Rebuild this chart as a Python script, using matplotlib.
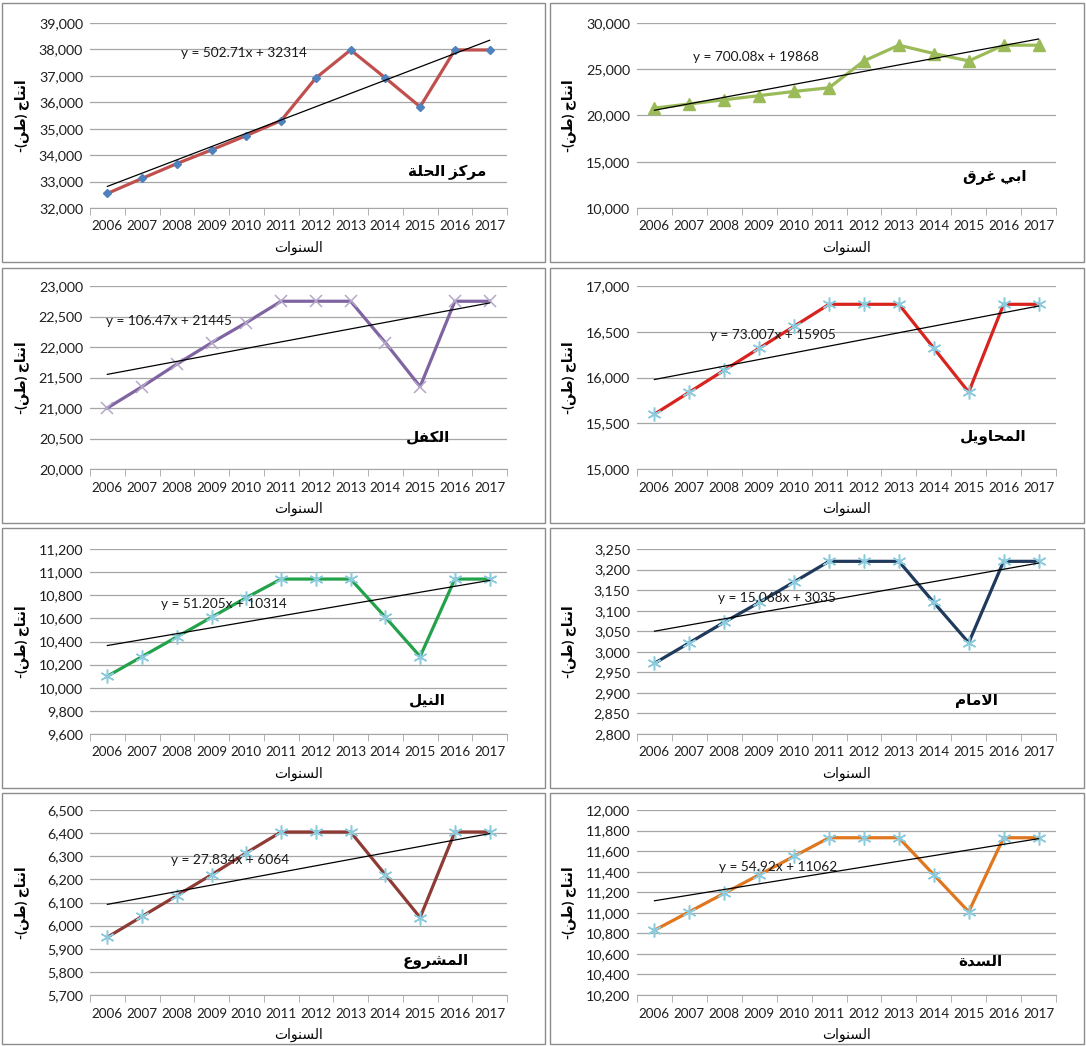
import numpy as np
import matplotlib
matplotlib.use("Agg")
import matplotlib.pyplot as plt
from matplotlib.patches import Rectangle
from matplotlib.ticker import MultipleLocator, FuncFormatter

plt.rcParams['font.family'] = ['Lato', 'DejaVu Sans']

# production per district, 2006-2017 (tonnes)
years = list(range(2006, 2018))
hilla = [32550, 33120, 33680, 34200, 34740, 35310, 36920, 37980, 36920, 35830, 37980, 37980]
abu_gharaq = [20800, 21250, 21700, 22150, 22600, 23000, 25900, 27600, 26700, 25900, 27600, 27600]
kifl = [21000, 21350, 21720, 22070, 22400, 22750, 22750, 22750, 22070, 21350, 22750, 22750]
mahawil = [15600, 15840, 16080, 16320, 16560, 16800, 16800, 16800, 16320, 15840, 16800, 16800]
nile = [10100, 10270, 10440, 10610, 10780, 10940, 10940, 10940, 10610, 10270, 10940, 10940]
imam = [2972, 3022, 3072, 3120, 3170, 3220, 3220, 3220, 3120, 3022, 3220, 3220]
mashrou = [5950, 6040, 6130, 6220, 6315, 6405, 6405, 6405, 6220, 6035, 6405, 6405]
sudda = [10830, 11010, 11190, 11370, 11550, 11730, 11730, 11730, 11370, 11010, 11730, 11730]

names = ['مركز الحلة', 'ابي غرق', 'الكفل', 'المحاويل', 'النيل', 'الامام', 'المشروع', 'السدة']
series = [hilla, abu_gharaq, kifl, mahawil, nile, imam, mashrou, sudda]

# linear trend lines y = a*x + b, x = 1..12
trend_slope = [502.71, 700.08, 106.47, 73.007, 51.205, 15.068, 27.834, 54.92]
trend_icept = [32314, 19868, 21445, 15905, 10314, 3035, 6064, 11062]

# ---- minimal Arabic shaping (matplotlib has no bidi/shaping) ----
FORMS = {
    'ء': ('\uFE80', None, None, None),
    'ا': ('\uFE8D', '\uFE8E', None, None),
    'ب': ('\uFE8F', '\uFE90', '\uFE91', '\uFE92'),
    'ة': ('\uFE93', '\uFE94', None, None),
    'ت': ('\uFE95', '\uFE96', '\uFE97', '\uFE98'),
    'ث': ('\uFE99', '\uFE9A', '\uFE9B', '\uFE9C'),
    'ج': ('\uFE9D', '\uFE9E', '\uFE9F', '\uFEA0'),
    'ح': ('\uFEA1', '\uFEA2', '\uFEA3', '\uFEA4'),
    'خ': ('\uFEA5', '\uFEA6', '\uFEA7', '\uFEA8'),
    'د': ('\uFEA9', '\uFEAA', None, None),
    'ذ': ('\uFEAB', '\uFEAC', None, None),
    'ر': ('\uFEAD', '\uFEAE', None, None),
    'ز': ('\uFEAF', '\uFEB0', None, None),
    'س': ('\uFEB1', '\uFEB2', '\uFEB3', '\uFEB4'),
    'ش': ('\uFEB5', '\uFEB6', '\uFEB7', '\uFEB8'),
    'ص': ('\uFEB9', '\uFEBA', '\uFEBB', '\uFEBC'),
    'ض': ('\uFEBD', '\uFEBE', '\uFEBF', '\uFEC0'),
    'ط': ('\uFEC1', '\uFEC2', '\uFEC3', '\uFEC4'),
    'ظ': ('\uFEC5', '\uFEC6', '\uFEC7', '\uFEC8'),
    'ع': ('\uFEC9', '\uFECA', '\uFECB', '\uFECC'),
    'غ': ('\uFECD', '\uFECE', '\uFECF', '\uFED0'),
    'ف': ('\uFED1', '\uFED2', '\uFED3', '\uFED4'),
    'ق': ('\uFED5', '\uFED6', '\uFED7', '\uFED8'),
    'ك': ('\uFED9', '\uFEDA', '\uFEDB', '\uFEDC'),
    'ل': ('\uFEDD', '\uFEDE', '\uFEDF', '\uFEE0'),
    'م': ('\uFEE1', '\uFEE2', '\uFEE3', '\uFEE4'),
    'ن': ('\uFEE5', '\uFEE6', '\uFEE7', '\uFEE8'),
    'ه': ('\uFEE9', '\uFEEA', '\uFEEB', '\uFEEC'),
    'و': ('\uFEED', '\uFEEE', None, None),
    'ى': ('\uFEEF', '\uFEF0', None, None),
    'ي': ('\uFEF1', '\uFEF2', '\uFEF3', '\uFEF4'),
    'لا': ('\uFEFB', '\uFEFC', None, None),
}


def dual(t):
    return t in FORMS and FORMS[t][2] is not None


def vis(text):
    toks, i = [], 0
    while i < len(text):
        if text[i] == 'ل' and i + 1 < len(text) and text[i + 1] == 'ا':
            toks.append('لا')
            i += 2
        else:
            toks.append(text[i])
            i += 1
    out = []
    for j, t in enumerate(toks):
        if t not in FORMS:
            out.append(t)
            continue
        prev = toks[j - 1] if j > 0 else None
        nxt = toks[j + 1] if j + 1 < len(toks) else None
        jp = prev is not None and dual(prev) and FORMS[t][1] is not None
        jn = dual(t) and nxt is not None and nxt in FORMS and FORMS[nxt][1] is not None
        iso, fin, ini, med = FORMS[t]
        if jp and jn:
            out.append(med)
        elif jp:
            out.append(fin)
        elif jn:
            out.append(ini)
        else:
            out.append(iso)
    return ''.join(reversed(out))


ylabel = '-(' + vis('طن') + ') ' + vis('انتاج')
xlabel = vis('السنوات')

# axis ranges and line styles per panel
ylims = [(32000, 39000, 1000), (10000, 30000, 5000), (20000, 23000, 500), (15000, 17000, 500),
         (9600, 11200, 200), (2800, 3250, 50), (5700, 6500, 100), (10200, 12000, 200)]
ast = (6, 2, 0)
styles = [
    dict(color='#C0504D', marker='D', ms=4.5, mfc='#4F81BD', mec='#4F81BD', mew=1),
    dict(color='#9BBB59', marker='^', ms=8, mfc='#9BBB59', mec='#9BBB59', mew=1),
    dict(color='#8064A2', marker='x', ms=9, mfc='none', mec='#B5A8C9', mew=1.1),
    dict(color='#D8231E', marker=ast, ms=10, mfc='none', mec='#8CCBDD', mew=1.1),
    dict(color='#23A24B', marker=ast, ms=10, mfc='none', mec='#8CCBDD', mew=1.1),
    dict(color='#1F3A5C', marker=ast, ms=10, mfc='none', mec='#8CCBDD', mew=1.1),
    dict(color='#8E3A35', marker=ast, ms=10, mfc='none', mec='#8CCBDD', mew=1.1),
    dict(color='#E0761E', marker=ast, ms=10, mfc='none', mec='#8CCBDD', mew=1.1),
]
eq_pos = [(0.37, 0.84), (0.283, 0.815), (0.19, 0.81), (0.325, 0.73),
          (0.32, 0.70), (0.335, 0.735), (0.335, 0.73), (0.337, 0.69)]
name_pos = [(0.856, 0.195), (0.855, 0.17), (0.81, 0.17), (0.85, 0.175),
            (0.81, 0.18), (0.81, 0.18), (0.83, 0.18), (0.82, 0.18)]

W, H = 1086, 1046
fig = plt.figure(figsize=(W / 100, H / 100), dpi=100)

col_box = [(2, 545), (550, 1084)]
col_ax = [(90, 507), (637, 1056)]
row_box = [(3, 262), (268, 523), (528, 788), (793, 1044)]
row_ax = [(23, 208), (286, 469), (549, 734), (810, 995)]

x = np.arange(1, 13)
for k in range(8):
    r, c = divmod(k, 2)
    bx0, bx1 = col_box[c]
    by0, by1 = row_box[r]
    fig.patches.append(Rectangle((bx0 / W, 1 - by1 / H), (bx1 - bx0) / W, (by1 - by0) / H,
                                 transform=fig.transFigure, fill=False, ec='#8C8C8C', lw=1))
    ax0, ax1 = col_ax[c]
    ay0, ay1 = row_ax[r]
    ax = fig.add_axes([ax0 / W, 1 - ay1 / H, (ax1 - ax0) / W, (ay1 - ay0) / H])

    ax.plot(x, series[k], lw=2.3, zorder=3, **styles[k])
    a, b = trend_slope[k], trend_icept[k]
    ax.plot(x, a * x + b, color='black', lw=0.9, zorder=4)

    lo, hi, step = ylims[k]
    ax.set_ylim(lo, hi)
    ax.set_xlim(0.5, 12.5)
    ax.yaxis.set_major_locator(MultipleLocator(step))
    ax.yaxis.set_major_formatter(FuncFormatter(lambda v, p: f'{v:,.0f}'))
    ax.grid(axis='y', color='#A6A6A6', lw=0.9)
    ax.set_axisbelow(True)
    for s in ('left', 'top', 'right'):
        ax.spines[s].set_visible(False)
    ax.spines['bottom'].set_color('#A6A6A6')

    ax.set_xticks(x)
    ax.set_xticklabels([str(yr) for yr in years])
    ax.set_xticks(np.arange(0.5, 13, 1), minor=True)
    ax.tick_params(axis='x', which='major', length=0, pad=9, labelsize=9.7, labelcolor='#1f1f1f')
    ax.tick_params(axis='x', which='minor', length=5, color='#A6A6A6')
    ax.tick_params(axis='y', length=0, pad=5, labelsize=10.3, labelcolor='#1f1f1f')

    wpx, hpx = ax1 - ax0, ay1 - ay0
    ax.set_xlabel(xlabel, fontsize=10)
    ax.xaxis.label.set_va('center')
    ax.xaxis.set_label_coords(0.5, -40 / hpx)
    ax.set_ylabel(ylabel, fontsize=10, fontweight='bold')
    ax.yaxis.label.set_va('center')
    ax.yaxis.set_label_coords(-68 / wpx, 0.5)

    ax.text(*eq_pos[k], f'y = {a:g}x + {b:g}', transform=ax.transAxes,
            ha='center', va='center', fontsize=9.8, color='#1a1a1a', zorder=5)
    ax.text(*name_pos[k], vis(names[k]), transform=ax.transAxes,
            ha='center', va='center', fontsize=11, fontweight='bold', zorder=5)

fig.savefig('out.png', dpi=100, facecolor='white')
